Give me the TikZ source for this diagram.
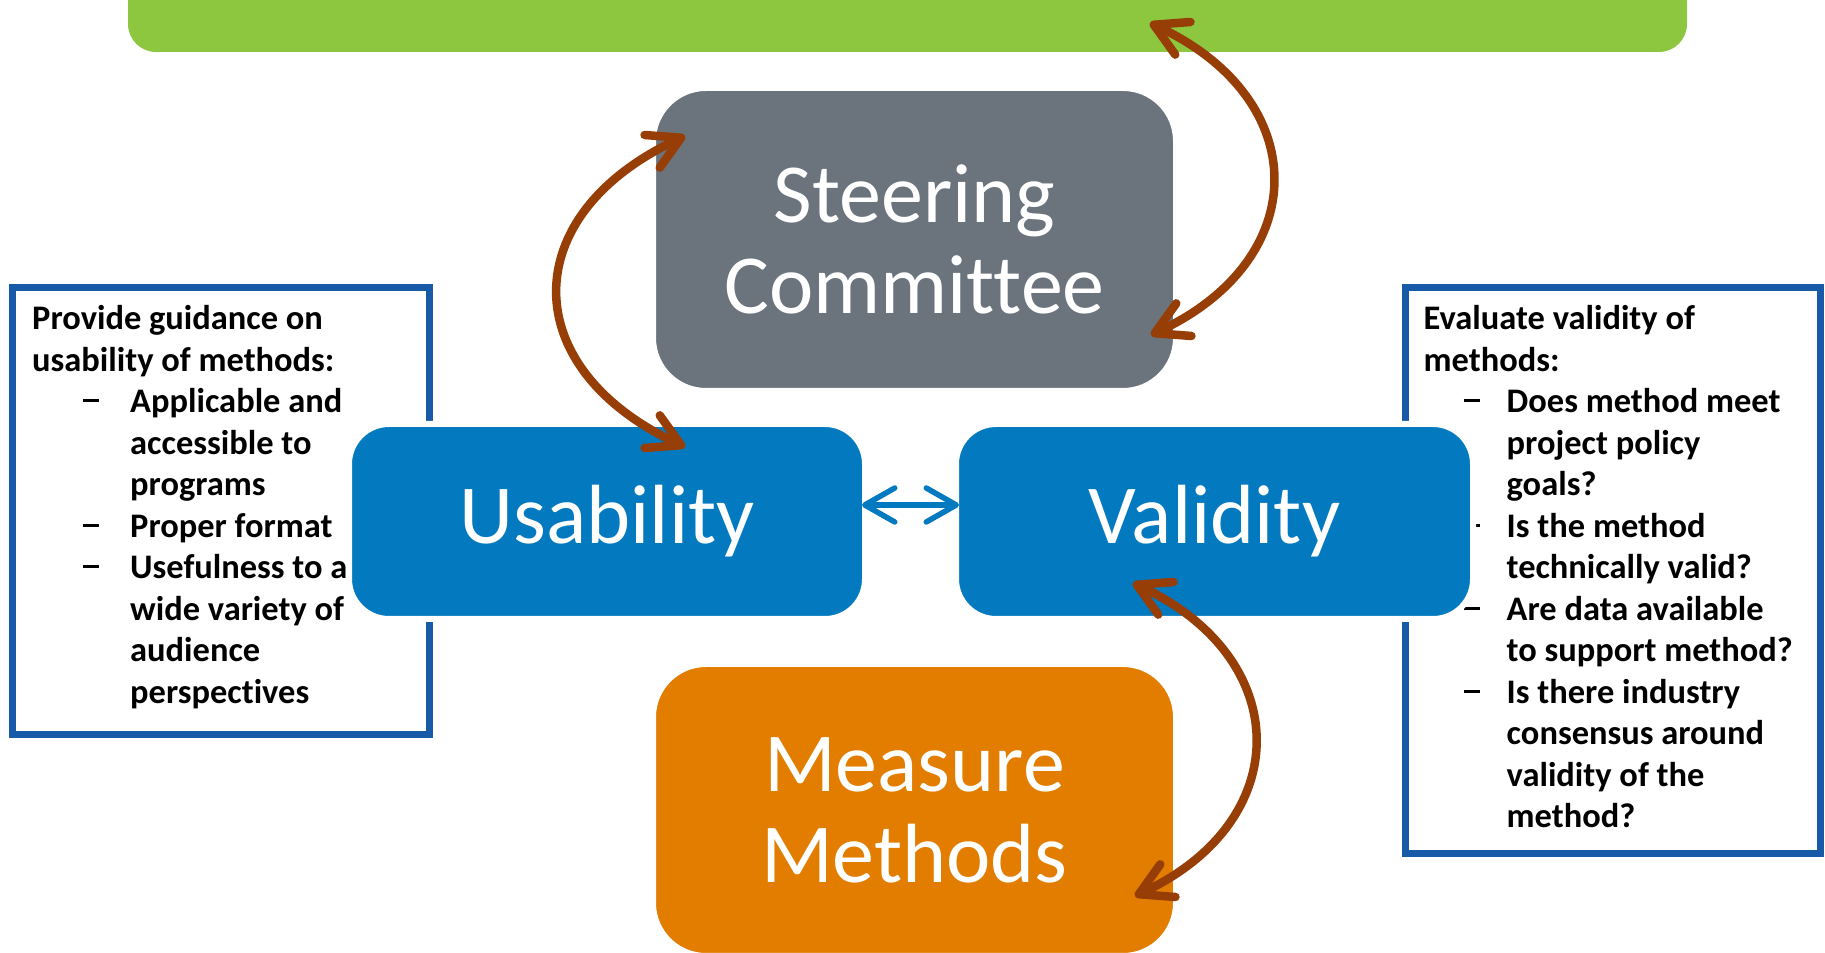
\documentclass[tikz,border=0pt]{standalone}
\usepackage{fontspec}
\setmainfont{Carlito}[Ligatures={TeX,NoCommon}]
\usepackage{tikz}
\usepackage{xcolor}
\usetikzlibrary{arrows.meta}
\definecolor{goalgreen}{RGB}{141,198,63}
\definecolor{steergray}{RGB}{107,115,125}
\definecolor{stageblue}{RGB}{3,121,192}
\definecolor{measureorange}{RGB}{227,125,0}
\definecolor{loopbrown}{RGB}{150,62,6}
\definecolor{noteblue}{RGB}{22,90,168}
\newlength{\dashskip}
\newlength{\itemskip}
\newcommand{\dashitem}{\hspace*{\dashskip}\makebox[\dimexpr\itemskip-\dashskip\relax][l]{\rule[1.05mm]{1.6mm}{0.3mm}}}
\newcommand{\contitem}{\hspace*{\itemskip}}
\tikzset{
    stage-box/.style = {draw=white, line width=0.06cm, rectangle, rounded corners=0.4cm, inner sep=0pt, outer sep=0pt, text=white, align=center, font=\fontsize{23.9pt}{25.9pt}\selectfont},
    note-box/.style = {draw=noteblue, line width=0.07cm, rectangle, fill=white, inner sep=0pt, outer sep=0pt, anchor=north west},
    note-text/.style = {inner sep=0pt, anchor=base west, font=\fontsize{9.8pt}{11.8pt}\selectfont\bfseries},
    loop-arrow/.style = {draw=loopbrown, line width=0.085cm, >={Straight Barb[length=0.32cm, width=0.36cm, round]}, <->},
    link-arrow/.style = {draw=stageblue, line width=0.055cm, >={Straight Barb[length=0.30cm, width=0.34cm, round]}, <->},
}

\begin{document}
\begin{tikzpicture}
\useasboundingbox (0,0) rectangle (18.25,9.53);
\clip (0,0) rectangle (18.25,9.53);
\node [fill=goalgreen, rounded corners=0.28cm, minimum width=15.59cm, minimum height=1cm, inner sep=0pt, outer sep=0pt] (goal) at (9.075,9.51) {};

\node [note-box, minimum width=4.17cm, minimum height=4.47cm] (usenote) at (0.125,6.655) {};
\node [note-text] (usetext) at ([shift={(0.19,-0.425)}]usenote.north west) {\begin{minipage}[t]{4cm}
    \setlength{\dashskip}{5.1mm}\setlength{\itemskip}{9.8mm}%
    Provide guidance on\\
    usability of methods:\\
    \dashitem Applicable and\\
    \contitem accessible to\\
    \contitem programs\\
    \dashitem Proper format\\
    \dashitem Usefulness to a\\
    \contitem wide variety of\\
    \contitem audience\\
    \contitem perspectives
\end{minipage}};

\node [note-box, minimum width=4.15cm, minimum height=5.66cm] (validnote) at (14.055,6.655) {};
\node [note-text] (validtext) at ([shift={(0.175,-0.425)}]validnote.north west) {\begin{minipage}[t]{4cm}
    \setlength{\dashskip}{4.0mm}\setlength{\itemskip}{8.3mm}%
    Evaluate validity of\\
    methods:\\
    \dashitem Does method meet\\
    \contitem project policy\\
    \contitem goals?\\
    \dashitem Is the method\\
    \contitem technically valid?\\
    \dashitem Are data available\\
    \contitem to support method?\\
    \dashitem Is there industry\\
    \contitem consensus around\\
    \contitem validity of the\\
    \contitem method?
\end{minipage}};

\node [stage-box, fill=steergray, rounded corners=0.53cm, minimum width=5.23cm, minimum height=3.03cm] (steering) at (9.145,7.135) {Steering\\Committee};
\node [stage-box, fill=stageblue, minimum width=5.16cm, minimum height=1.95cm] (usability) at (6.07,4.315) {Usability};
\node [stage-box, fill=stageblue, minimum width=5.17cm, minimum height=1.95cm] (validity) at (12.145,4.315) {Validity};
\node [stage-box, fill=measureorange, rounded corners=0.53cm, minimum width=5.23cm, minimum height=2.92cm] (measures) at (9.145,1.43) {Measure\\Methods};

\draw [loop-arrow] ([shift={(0.32,-0.48)}]steering.north west) to[out=205, in=155, looseness=1.54] ([shift={(0.78,-0.23)}]usability.north);
\draw [loop-arrow] ([shift={(2.425,0.29)}]goal.south) to[out=335, in=25, looseness=1.47] ([shift={(-0.25,0.56)}]steering.south east);
\draw [loop-arrow] ([shift={(-0.815,0.36)}]validity.south) to[out=335, in=25, looseness=1.45] ([shift={(-0.41,0.60)}]measures.south east);
\draw [link-arrow] ([shift={(-0.03,0.165)}]usability.east) -- ([shift={(0.03,0.165)}]validity.west);
\end{tikzpicture}
\end{document}
